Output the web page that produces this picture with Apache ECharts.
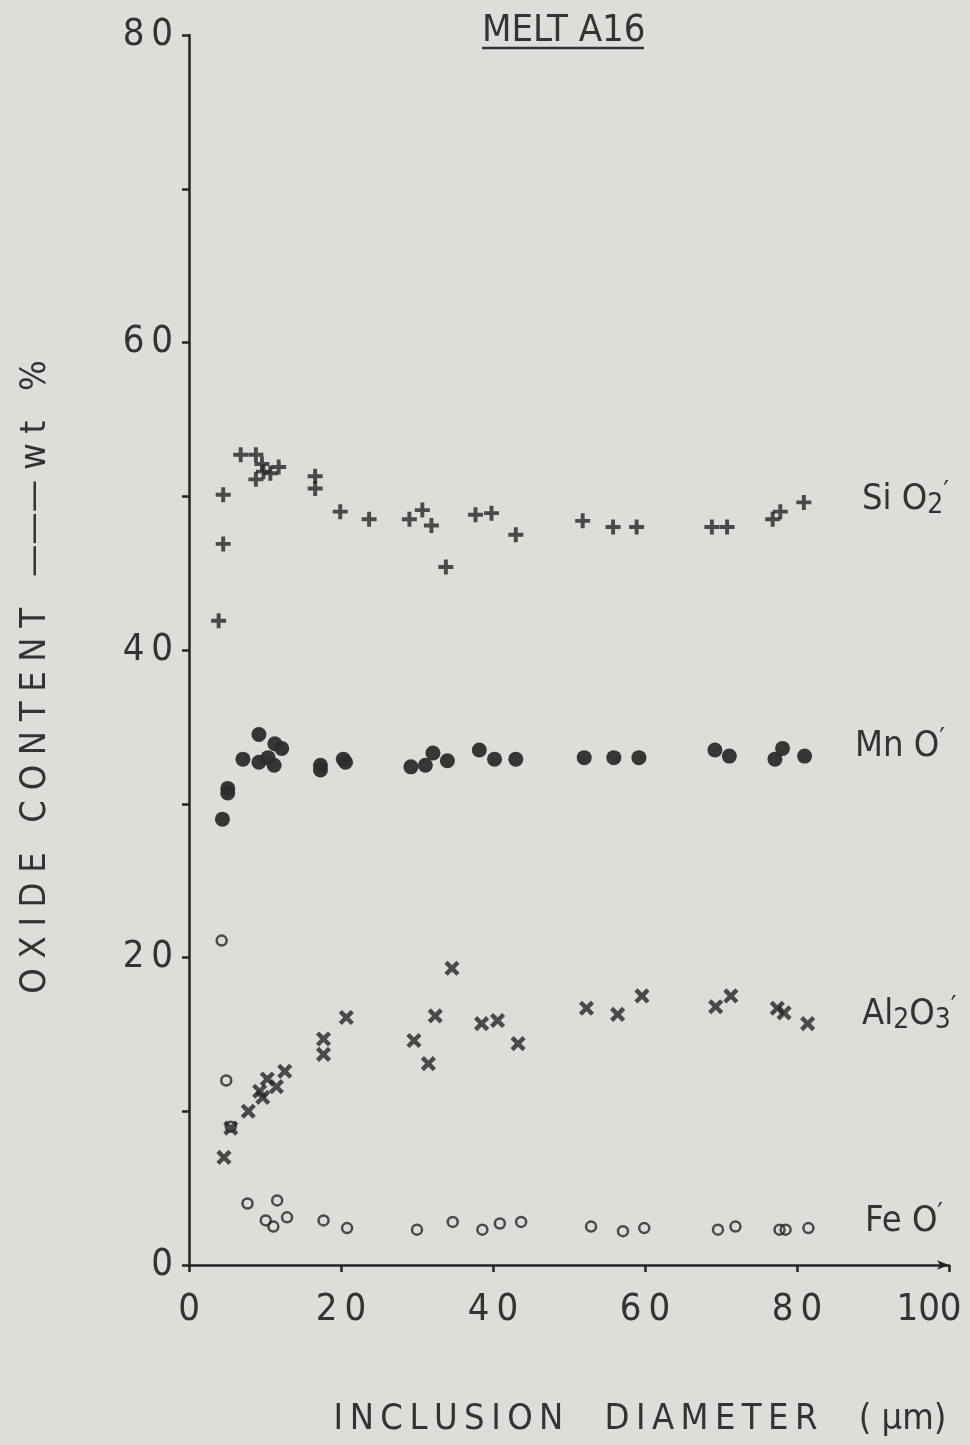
<!DOCTYPE html>
<html>
<head>
<meta charset="utf-8">
<script src="https://cdn.jsdelivr.net/npm/echarts@6/dist/echarts.min.js"></script>
<style>
  html, body { margin: 0; padding: 0; background: #dcdfd9; }
  #chart { width: 970px; height: 1445px; }
</style>
</head>
<body>
<div id="chart"></div>
<script>
// 读图得到的数据 (x: inclusion diameter µm, y: wt %)
const sio2 = [
  [3.9, 41.9], [4.5, 46.9], [4.5, 50.1], [6.8, 52.7], [8.8, 52.7], [9.6, 52.1],
  [8.8, 51.1], [9.8, 51.6], [10.7, 51.5], [11.8, 51.9], [16.6, 51.3], [16.6, 50.5],
  [19.9, 49.0], [23.7, 48.5], [29.0, 48.5], [30.7, 49.1], [31.9, 48.1], [33.8, 45.4],
  [37.7, 48.8], [39.8, 48.9], [43.0, 47.5], [51.8, 48.4], [55.8, 48.0], [58.9, 48.0],
  [68.8, 48.0], [70.8, 48.0], [76.8, 48.5], [77.8, 49.0], [80.9, 49.6]
];
const mno = [
  [4.4, 29.0], [5.1, 31.0], [5.1, 30.7], [7.1, 32.9], [9.2, 34.5], [9.2, 32.7],
  [10.4, 33.0], [11.3, 33.9], [12.2, 33.6], [11.2, 32.5], [17.3, 32.5], [17.3, 32.2],
  [20.3, 32.9], [20.6, 32.7], [29.2, 32.4], [31.1, 32.5], [32.1, 33.3], [34.0, 32.8],
  [38.2, 33.5], [40.2, 32.9], [43.0, 32.9], [52.0, 33.0], [55.9, 33.0], [59.2, 33.0],
  [69.2, 33.5], [71.1, 33.1], [77.1, 32.9], [78.1, 33.6], [81.0, 33.1]
];
const al2o3 = [
  [4.6, 7.0], [5.5, 8.9], [7.8, 10.0], [9.3, 11.3], [9.7, 10.9], [10.3, 12.1],
  [11.5, 11.6], [12.6, 12.6], [17.7, 14.7], [17.7, 13.7], [20.7, 16.1], [29.6, 14.6],
  [31.5, 13.1], [32.4, 16.2], [34.6, 19.3], [38.5, 15.7], [40.6, 15.9], [43.3, 14.4],
  [52.3, 16.7], [56.4, 16.3], [59.6, 17.5], [69.3, 16.8], [71.3, 17.5], [77.4, 16.7],
  [78.3, 16.4], [81.4, 15.7]
];
const feo = [
  [4.3, 21.1], [4.9, 12.0], [5.5, 9.0], [7.7, 4.0], [11.6, 4.2], [10.1, 2.9],
  [11.1, 2.5], [12.9, 3.1], [17.7, 2.9], [20.8, 2.4], [30.0, 2.3], [34.7, 2.8],
  [38.6, 2.3], [40.9, 2.7], [43.7, 2.8], [52.9, 2.5], [57.1, 2.2], [59.9, 2.4],
  [69.6, 2.3], [71.9, 2.5], [77.7, 2.3], [78.5, 2.3], [81.5, 2.4]
];
const xTicks = [0, 20, 40, 60, 80, 100];
const yTicks = [0, 20, 40, 60, 80];

const ink = '#242424';
const font = "'Liberation Sans Narrow', 'DejaVu Sans Condensed', 'DejaVu Sans', sans-serif";
const plusPath = 'path://M3.7,0H6.3V3.7H10V6.3H6.3V10H3.7V6.3H0V3.7H3.7Z';
// 字符之间加细空格, 模仿原图的字距
const spaced = (s, gap) => s.split('').join(gap || '\u2009');

const myChart = echarts.init(document.getElementById('chart'));
myChart.setOption({
  backgroundColor: '#dcdfd9',
  animation: false,
  grid: { left: 189, top: 35, width: 760, height: 1230, containLabel: false, outerBoundsMode: 'none' },
  xAxis: {
    type: 'value', min: 0, max: 100, interval: 20,
    splitLine: { show: false },
    axisLine: { lineStyle: { color: ink, width: 2.5 }, symbol: ['none', 'arrow'], symbolSize: [7, 12] },
    axisTick: { inside: false, length: 7, lineStyle: { color: ink, width: 2.5 } },
    axisLabel: {
      margin: 26, color: '#333', fontSize: 38, fontFamily: font,
      // 100 在原图中往左挪了一些
      formatter: v => v === 100 ? '{r|100}' : (xTicks.includes(v) ? spaced(String(v)) : ''),
      rich: { r: { fontSize: 38, fontFamily: font, color: '#333', padding: [0, 40, 0, 0] } }
    }
  },
  yAxis: {
    type: 'value', min: 0, max: 80, interval: 10,
    splitLine: { show: false },
    axisLine: { lineStyle: { color: ink, width: 2.5 } },
    axisTick: { inside: false, length: 7, lineStyle: { color: ink, width: 2.5 } },
    axisLabel: {
      margin: 16, color: '#333', fontSize: 38, fontFamily: font,
      formatter: v => yTicks.includes(v) ? spaced(String(v)) : ''
    }
  },
  graphic: [
    { type: 'text', left: 482, top: 12, style: { text: 'MELT A16', fontSize: 38, fontFamily: font, fill: '#333' } },
    { type: 'line', shape: { x1: 482, y1: 48, x2: 644, y2: 48 }, style: { stroke: '#333', lineWidth: 2.5 } },
    { type: 'text', x: 36, y: 677, rotation: Math.PI / 2,
      style: { text: spaced('OXIDE CONTENT', '\u2009\u200a') + '   ——— ' + spaced('wt %', '\u2009\u200a'), fontSize: 36, fontFamily: font,
        fill: '#333', align: 'center', verticalAlign: 'middle' } },
    { type: 'text', x: 640, y: 1420,
      style: { text: spaced('INCLUSION') + '    ' + spaced('DIAMETER') + '    ( \u03bcm)', fontSize: 36,
        fontFamily: font, fill: '#333', align: 'center', verticalAlign: 'middle' } },
    ...[
      ['{b|Si O}{s|2}{p|′}', 862, 500],
      ['{b|Mn O}{p|′}', 855, 747],
      ['{b|Al}{s|2}{b|O}{s|3}{p|′}', 862, 1015],
      ['{b|Fe O}{p|′}', 865, 1222]
    ].map(([t, x, y]) => ({
      type: 'text', x: x, y: y,
      style: {
        text: t, verticalAlign: 'middle', fill: '#333',
        rich: {
          b: { fontSize: 36, fontFamily: font, lineHeight: 40, verticalAlign: 'middle', fill: '#333' },
          s: { fontSize: 28, fontFamily: font, lineHeight: 26, verticalAlign: 'bottom', fill: '#333' },
          p: { fontSize: 28, fontFamily: font, lineHeight: 26, verticalAlign: 'top', fill: '#333' }
        }
      }
    }))
  ],
  series: [
    { name: 'SiO2', type: 'scatter', data: sio2, symbol: plusPath, symbolSize: 15,
      itemStyle: { color: ink } },
    { name: 'MnO', type: 'scatter', data: mno, symbol: 'circle', symbolSize: 15,
      itemStyle: { color: '#2c2c2c', opacity: 0.95 } },
    { name: 'Al2O3', type: 'scatter', data: al2o3, symbol: plusPath, symbolSize: 17, symbolRotate: 45,
      itemStyle: { color: ink } },
    { name: 'FeO', type: 'scatter', data: feo, symbol: 'circle', symbolSize: 10,
      itemStyle: { color: 'rgba(0,0,0,0)', borderColor: ink, borderWidth: 2.5 } }
  ]
});
</script>
</body>
</html>
